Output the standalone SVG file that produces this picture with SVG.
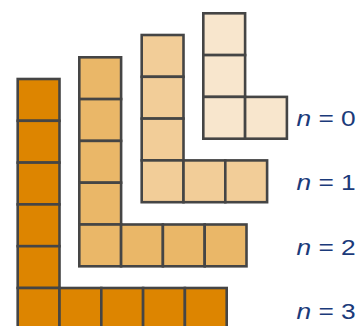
<svg xmlns="http://www.w3.org/2000/svg" width="361" height="326" viewBox="0 0 361 326">
<style>
.sq{stroke:#454545;stroke-width:2.6;stroke-linejoin:miter}
.s0{fill:#F8E6CD}
.s1{fill:#F2CD98}
.s2{fill:#EAB768}
.s3{fill:#DD8500}
.lbl{font-family:"Liberation Sans",Arial,sans-serif;font-size:22.5px;fill:#1B3A7A}
.it{font-style:italic}
</style>
<rect width="361" height="326" fill="#ffffff"/>
<g id="shape-n3" class="s3" transform="translate(17.7,79)">
<rect class="sq" x="0" y="0" width="41.8" height="41.8"/>
<rect class="sq" x="0" y="41.8" width="41.8" height="41.8"/>
<rect class="sq" x="0" y="83.6" width="41.8" height="41.8"/>
<rect class="sq" x="0" y="125.4" width="41.8" height="41.8"/>
<rect class="sq" x="0" y="167.2" width="41.8" height="41.8"/>
<rect class="sq" x="0" y="209" width="41.8" height="41.8"/>
<rect class="sq" x="41.8" y="209" width="41.8" height="41.8"/>
<rect class="sq" x="83.6" y="209" width="41.8" height="41.8"/>
<rect class="sq" x="125.4" y="209" width="41.8" height="41.8"/>
<rect class="sq" x="167.2" y="209" width="41.8" height="41.8"/>
</g>
<g id="shape-n2" class="s2" transform="translate(79.3,57.3)">
<rect class="sq" x="0" y="0" width="41.8" height="41.8"/>
<rect class="sq" x="0" y="41.8" width="41.8" height="41.8"/>
<rect class="sq" x="0" y="83.6" width="41.8" height="41.8"/>
<rect class="sq" x="0" y="125.4" width="41.8" height="41.8"/>
<rect class="sq" x="0" y="167.2" width="41.8" height="41.8"/>
<rect class="sq" x="41.8" y="167.2" width="41.8" height="41.8"/>
<rect class="sq" x="83.6" y="167.2" width="41.8" height="41.8"/>
<rect class="sq" x="125.4" y="167.2" width="41.8" height="41.8"/>
</g>
<g id="shape-n1" class="s1" transform="translate(141.7,35)">
<rect class="sq" x="0" y="0" width="41.8" height="41.8"/>
<rect class="sq" x="0" y="41.8" width="41.8" height="41.8"/>
<rect class="sq" x="0" y="83.6" width="41.8" height="41.8"/>
<rect class="sq" x="0" y="125.4" width="41.8" height="41.8"/>
<rect class="sq" x="41.8" y="125.4" width="41.8" height="41.8"/>
<rect class="sq" x="83.6" y="125.4" width="41.8" height="41.8"/>
</g>
<g id="shape-n0" class="s0" transform="translate(203.3,13.3)">
<rect class="sq" x="0" y="0" width="41.8" height="41.8"/>
<rect class="sq" x="0" y="41.8" width="41.8" height="41.8"/>
<rect class="sq" x="0" y="83.6" width="41.8" height="41.8"/>
<rect class="sq" x="41.8" y="83.6" width="41.8" height="41.8"/>
</g>
<g id="labels">
<text class="lbl" transform="translate(296.5,125.5) scale(1.17,1)"><tspan class="it">n</tspan> = 0</text>
<text class="lbl" transform="translate(296.5,190) scale(1.17,1)"><tspan class="it">n</tspan> = 1</text>
<text class="lbl" transform="translate(296.5,254.5) scale(1.17,1)"><tspan class="it">n</tspan> = 2</text>
<text class="lbl" transform="translate(296.5,319) scale(1.17,1)"><tspan class="it">n</tspan> = 3</text>
</g>
</svg>
